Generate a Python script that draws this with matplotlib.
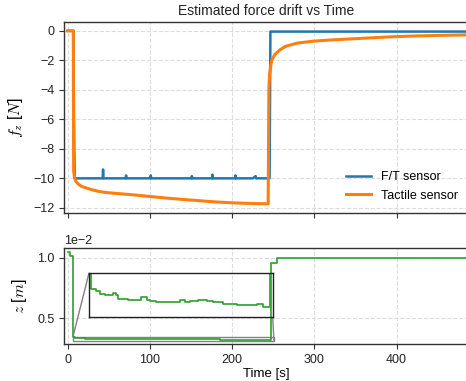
import matplotlib
matplotlib.use("Agg")
import matplotlib.pyplot as plt
from mpl_toolkits.axes_grid1.inset_locator import mark_inset
from matplotlib.ticker import MultipleLocator

plt.rcParams['font.family'] = ['Liberation Sans', 'DejaVu Sans']
plt.rcParams['mathtext.fontset'] = 'cm'
plt.rcParams['font.size'] = 9

# ---- data ----
ft_t = [0, 7.0, 7.6, 8.5, 20, 30, 42.5, 43, 43.5, 60, 70.5, 71, 71.5, 100.5, 101, 101.5, 130,
        150.5, 151, 151.5, 175.5, 176, 176.5, 200, 203.5, 204, 204.5, 225, 228.5, 229, 240,
        245.5, 246.5, 260, 300, 350, 400, 450, 490]
ft_f = [0, 0, -6.0, -10.0, -10.0, -10.0, -10.0, -9.4, -10.0, -10.0, -10.0, -9.8, -10.0,
        -10.0, -9.8, -10.0, -10.0, -10.0, -9.85, -10.0, -10.0, -9.75, -10.0, -10.0,
        -10.0, -9.8, -10.0, -10.0, -9.85, -10.0, -10.0, -10.0, -0.05, -0.05, -0.05,
        -0.05, -0.05, -0.05, -0.05]

tac_t = [0, 6.8, 7.2, 8.5, 10, 13, 17, 23, 30, 39, 50, 65, 80, 100, 120, 140, 161, 180,
         200, 220, 238, 243.8, 244.6, 245.5, 248, 252, 258, 265, 279, 299, 320, 340,
         360, 380, 400, 421, 450, 490]
tac_f = [0, 0, -9.5, -10.0, -10.2, -10.4, -10.55, -10.66, -10.78, -10.9, -10.98,
         -11.05, -11.12, -11.23, -11.34, -11.43, -11.52, -11.6, -11.66, -11.7, -11.72,
         -11.73, -4.0, -2.9, -2.0, -1.6, -1.29, -1.05, -0.83, -0.70, -0.62, -0.56,
         -0.50, -0.44, -0.39, -0.35, -0.31, -0.27]

z_t = [0, 3, 7, 9, 15.3, 20.7, 27.3, 38.5, 42.9, 45.1, 58.5, 67.4, 76.2, 82.9, 87.4,
       96.2, 127.4, 134, 140.7, 151.9, 163, 171.9, 185.2, 203, 216.3, 229.7, 238.5,
       247.5, 255, 300, 350, 400, 450, 490]
z_cm = [1.045, 1.01, 0.344, 0.3333, 0.3313, 0.3296, 0.3288, 0.3301, 0.3288, 0.3259,
        0.3251, 0.3246, 0.3269, 0.3246, 0.3239, 0.3235, 0.3246, 0.3232, 0.3239,
        0.3246, 0.3239, 0.3232, 0.3221, 0.3214, 0.3209, 0.3219, 0.3195, 0.956,
        0.997, 0.997, 0.996, 0.997, 0.997, 0.997]
z_m = [v * 1e-2 for v in z_cm]

W, H = 466, 381
fig = plt.figure(figsize=(W / 100, H / 100), dpi=100)

def frac(l, t, r, b):
    return [l / W, 1 - b / H, (r - l) / W, (b - t) / H]

spine_c = '#333333'
grid_kw = dict(color='#dddddd', linestyle='--', linewidth=0.8)

def style(ax):
    for s in ax.spines.values():
        s.set_color(spine_c)
        s.set_linewidth(1.0)
    ax.tick_params(direction='out', length=3.5, width=0.8, color=spine_c,
                   labelcolor='#222222', labelsize=9)
    ax.grid(True, **grid_kw)
    ax.set_axisbelow(True)

ax1 = fig.add_axes(frac(64, 22, 469, 213))
ax2 = fig.add_axes(frac(64, 248, 469, 344))
style(ax1)
style(ax2)

ax1.plot(ft_t, ft_f, color='#1f77b4', lw=1.8, label='F/T sensor')
ax1.plot(tac_t, tac_f, color='#ff7f0e', lw=2.2, label='Tactile sensor')
ax1.set_xlim(-4.5, 488)
ax1.set_ylim(-12.35, 0.6)
ax1.set_yticks([0, -2, -4, -6, -8, -10, -12])
ax1.set_xticks([0, 100, 200, 300, 400])
ax1.tick_params(labelbottom=False)
ax1.set_ylabel(r'$f_z$ [$N$]', fontsize=11.5, labelpad=6)
ax1.set_title('Estimated force drift vs Time', fontsize=10, color='#222222', pad=5)
ax1.legend(loc='lower right', frameon=False, fontsize=9)

ax2.plot(z_t, z_m, color='#2ca02c', lw=1.2, drawstyle='steps-post')
ax2.set_xlim(-4.5, 488)
ax2.set_ylim(0.00285, 0.0108)
ax2.yaxis.set_major_locator(MultipleLocator(0.005))
ax2.ticklabel_format(axis='y', style='sci', scilimits=(0, 0))
ax2.yaxis.get_offset_text().set_fontsize(9)
ax2.set_xticks([0, 100, 200, 300, 400])
ax2.set_xlabel('Time [s]', fontsize=9.5, labelpad=2)
ax2.set_ylabel(r'$z$ [$m$]', fontsize=11.5, labelpad=6)

axin = fig.add_axes(frac(89, 273, 272.7, 317.3))
axin.plot(z_t, z_m, color='#2ca02c', lw=1.2, drawstyle='steps-post')
axin.set_xlim(6.4, 250.8)
axin.set_ylim(0.00312, 0.00345)
axin.set_xticks([])
axin.set_yticks([])
axin.patch.set_alpha(0)
for s in axin.spines.values():
    s.set_color('#222222')
    s.set_linewidth(1.0)
mark_inset(ax2, axin, loc1=2, loc2=4, fc='none', ec='0.5', lw=1.0)

fig.savefig('out.png', dpi=100)
